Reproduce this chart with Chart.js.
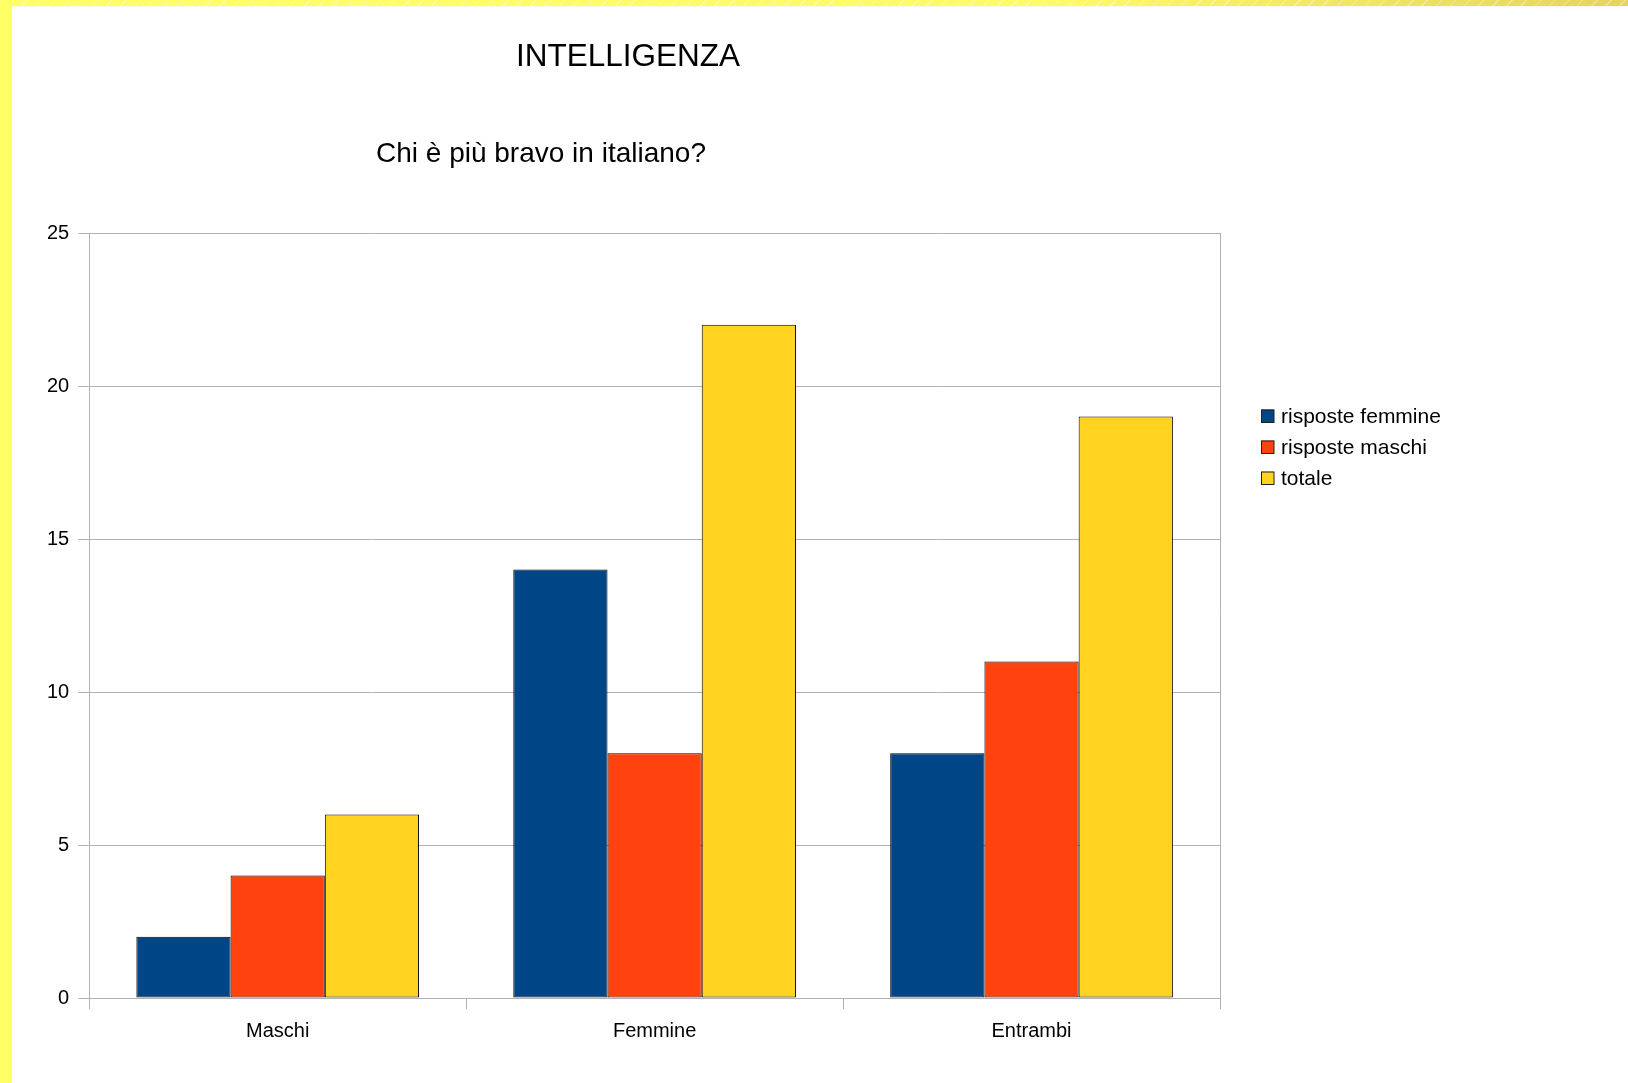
<!DOCTYPE html>
<html lang="it">
<head>
<meta charset="utf-8">
<title>INTELLIGENZA</title>
<script src="https://cdn.jsdelivr.net/npm/chart.js@4"></script>
<style>
  html, body { margin: 0; padding: 0; background: #fff; }
  #page { position: relative; width: 1628px; height: 1083px; overflow: hidden; }
  #chartBox { position: absolute; left: 0; top: 0; width: 1628px; height: 1083px; }
  .bar-top {
    position: absolute; left: 0; top: 0; width: 1628px; height: 6px;
    background:
      repeating-linear-gradient(135deg, rgba(255,255,255,0) 0 9px, rgba(255,255,255,0.35) 9px 10px),
      linear-gradient(to right, #ffff66 0%, #fdfb66 65%, #f2ea62 80%, #e4d55b 100%);
    border-bottom: 1px solid #fbf9e8;
  }
  .bar-left { position: absolute; left: 0; top: 0; width: 12px; height: 1083px; background: #ffff66; }
</style>
</head>
<body>
<div id="page">
  <div id="chartBox"><canvas id="italianoChart"></canvas></div>
  <div class="bar-top"></div>
  <div class="bar-left"></div>
</div>
<script>
// data
const categories = ['Maschi', 'Femmine', 'Entrambi'];
const risposteFemmine = [2, 14, 8];
const risposteMaschi = [4, 8, 11];
const totale = [6, 22, 19];
const yTicks = [0, 5, 10, 15, 20, 25];

const titleText = 'INTELLIGENZA';
const subtitleText = 'Chi è più bravo in italiano?';

const FONT = '"Liberation Sans", Arial, sans-serif';
const GRID = '#b3b3b3';

// titles + legend drawn by hand, LibreOffice style
const decorations = {
  id: 'decorations',
  afterDraw(chart) {
    const c = chart.ctx;
    const area = chart.chartArea;
    c.save();
    c.fillStyle = '#000';
    c.textBaseline = 'middle';
    c.textAlign = 'center';
    c.font = '31.5px ' + FONT;
    c.fillText(titleText, 628, 57);
    c.font = '28px ' + FONT;
    c.fillText(subtitleText, 541, 154);

    // legend
    c.textAlign = 'left';
    c.font = '21px ' + FONT;
    const x = area.right + 41;
    chart.data.datasets.forEach((ds, i) => {
      const cy = 416 + i * 31;
      c.fillStyle = ds.backgroundColor;
      c.fillRect(x, cy - 6.5, 13, 13);
      c.strokeStyle = '#222';
      c.lineWidth = 1;
      c.strokeRect(x + 0.5, cy - 6, 12.5, 12.5);
      c.fillStyle = '#000';
      c.fillText(ds.label, x + 20, cy + 1);
    });
    c.restore();
  }
};

new Chart(document.getElementById('italianoChart'), {
  type: 'bar',
  data: {
    labels: categories,
    datasets: [
      { label: 'risposte femmine', data: risposteFemmine, backgroundColor: '#004586' },
      { label: 'risposte maschi', data: risposteMaschi, backgroundColor: '#ff420e' },
      { label: 'totale', data: totale, backgroundColor: '#ffd320' }
    ]
  },
  options: {
    responsive: true,
    maintainAspectRatio: false,
    animation: false,
    devicePixelRatio: 1,
    layout: { padding: { left: 38, top: 233, right: 408, bottom: 30 } },
    datasets: {
      bar: {
        categoryPercentage: 0.75,
        barPercentage: 1.0,
        borderColor: '#000',
        borderWidth: 1,
        borderSkipped: false
      }
    },
    plugins: {
      legend: { display: false },
      title: { display: false },
      tooltip: { enabled: false }
    },
    scales: {
      x: {
        grid: {
          offset: true,
          // only the outer frame lines reach into the plot
          color: ctx => (ctx.type !== 'tick' || ctx.index === 0) ? GRID : 'rgba(0,0,0,0)',
          tickColor: GRID,
          tickLength: 11
        },
        border: { color: GRID },
        ticks: { color: '#000', padding: 10, font: { family: FONT, size: 20 } }
      },
      y: {
        min: 0,
        max: 25,
        afterBuildTicks: axis => { axis.ticks = yTicks.map(v => ({ value: v })); },
        grid: { color: GRID, tickColor: GRID, tickLength: 11 },
        border: { color: GRID },
        ticks: { color: '#000', padding: 9, font: { family: FONT, size: 20 } }
      }
    }
  },
  plugins: [decorations]
});
</script>
</body>
</html>
